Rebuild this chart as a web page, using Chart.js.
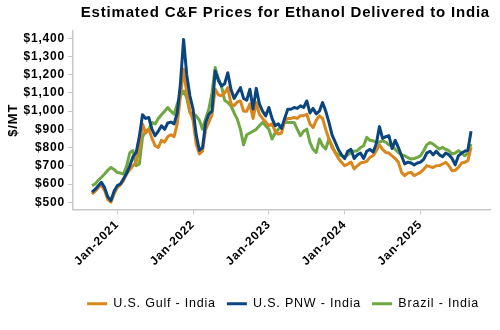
<!DOCTYPE html>
<html>
<head>
<meta charset="utf-8">
<script src="https://cdn.jsdelivr.net/npm/chart.js@4/dist/chart.umd.min.js"></script>
<style>
  html, body { margin: 0; padding: 0; background: #ffffff; }
  #wrap { width: 500px; height: 330px; }
</style>
</head>
<body>
<div id="wrap"><canvas id="chart" width="500" height="330"></canvas></div>
<script>
// Semi-monthly readings, first point ~Sep 2020 (x in months from Jan-2021)
const START_MONTH = -4;
const STEP = 0.5;

const gulfIndia = [
  545, 560, 580, 595, 565, 515, 500, 545, 580, 595, 620, 655, 680, 700, 720, 800,
  930, 880, 900, 850, 810, 800, 840, 830, 860, 870, 860, 930, 1080, 1230, 1100, 1000,
  950, 820, 765, 780, 900, 940, 980, 1120, 1090, 1084, 1100, 1129, 1040, 1030, 1050, 1056,
  1000, 1000, 1040, 960, 1047, 983, 960, 940, 920, 930, 890, 874, 880, 947, 960, 960,
  965, 960, 975, 975, 983, 930, 910, 950, 974, 960, 900, 847, 800, 773, 740, 719,
  700, 710, 720, 683, 700, 715, 719, 725, 746, 755, 783, 815, 790, 773, 770, 755,
  740, 719, 664, 646, 660, 664, 646, 655, 664, 680, 701, 695, 691, 700, 701, 710,
  719, 700, 673, 675, 691, 715, 719, 728, 801
];

const pnwIndia = [
  555, 570, 590, 609, 580, 530, 509, 560, 591, 600, 628, 660, 701, 750, 773, 860,
  980, 960, 965, 900, 865, 890, 920, 900, 935, 940, 930, 990, 1150, 1394, 1200, 1084,
  1011, 870, 785, 800, 938, 983, 1000, 1220, 1170, 1138, 1150, 1211, 1120, 1070, 1100, 1129,
  1070, 1060, 1120, 1011, 1125, 1040, 1000, 974, 1020, 960, 920, 930, 905, 960, 1011, 1010,
  1020, 1015, 1029, 1020, 1056, 990, 1015, 985, 1000, 1047, 1000, 940, 870, 830, 790, 760,
  740, 780, 790, 740, 760, 770, 740, 780, 790, 775, 820, 915, 850, 860, 865, 795,
  840, 800, 755, 710, 720, 715, 705, 715, 720, 735, 770, 780, 760, 780, 760, 750,
  770, 760, 740, 705, 755, 770, 780, 785, 890
];

const brazilIndia = [
  591, 600, 620, 637, 655, 675, 691, 680, 664, 660, 655, 700, 773, 783, 700, 710,
  856, 892, 900, 938, 930, 960, 980, 1000, 1020, 1000, 983, 1040, 1084, 1110, 1074, 992,
  985, 974, 950, 901, 960, 1011, 1100, 1239, 1180, 1138, 1060, 1047, 1029, 990, 956, 900,
  815, 870, 880, 890, 900, 920, 938, 920, 901, 847, 880, 901, 920, 938, 938, 938,
  938, 900, 865, 890, 901, 828, 790, 773, 847, 810, 792, 847, 810, 773, 760, 755,
  746, 760, 773, 780, 783, 800, 810, 856, 840, 837, 828, 830, 837, 830, 815, 810,
  790, 773, 760, 755, 745, 737, 740, 746, 755, 783, 815, 828, 819, 805, 792, 801,
  790, 783, 765, 770, 783, 770, 755, 770, 819
];

const seriesNames = ["U.S. Gulf - India", "U.S. PNW - India", "Brazil - India"];
const yTicks = [500, 600, 700, 800, 900, 1000, 1100, 1200, 1300, 1400];
const xTicks = [0, 12, 24, 36, 48]; // Jan of each year
const firstYear = 2021;

const colors = ["#d9861c", "#0a4580", "#6fa843"];

function toPoints(values) {
  return values.map((v, i) => ({ x: START_MONTH + i * STEP, y: v }));
}

const FONT = "'Liberation Sans', Arial, sans-serif";

// the reference text is a little spaced out
const spacing = {
  id: "spacing",
  beforeLayout(chart) { chart.ctx.letterSpacing = "0.8px"; },
  beforeDraw(chart) { chart.ctx.letterSpacing = "0.8px"; }
};

new Chart(document.getElementById("chart"), {
  type: "line",
  plugins: [spacing],
  data: {
    datasets: [
      { label: seriesNames[0], data: toPoints(gulfIndia), borderColor: colors[0], backgroundColor: colors[0], order: 1 },
      { label: seriesNames[1], data: toPoints(pnwIndia), borderColor: colors[1], backgroundColor: colors[1], order: 0 },
      { label: seriesNames[2], data: toPoints(brazilIndia), borderColor: colors[2], backgroundColor: colors[2], order: 2 }
    ]
  },
  options: {
    responsive: false,
    animation: false,
    devicePixelRatio: 1,
    layout: { padding: { left: 0, right: 10, top: 0, bottom: 10 } },
    elements: {
      point: { radius: 0 },
      line: { borderWidth: 3, tension: 0, borderJoinStyle: "round" }
    },
    plugins: {
      title: {
        display: true,
        text: "Estimated C&F Prices for Ethanol Delivered to India",
        align: "end",
        color: "#000",
        font: { family: FONT, size: 15, weight: "bold" },
        padding: { top: 4, bottom: 9 }
      },
      legend: {
        position: "bottom",
        align: "end",
        labels: {
          boxWidth: 20,
          boxHeight: 3,
          padding: 11,
          color: "#000",
          font: { family: FONT, size: 12.5 },
          generateLabels(chart) {
            return Chart.defaults.plugins.legend.labels.generateLabels(chart).map(l => {
              l.lineWidth = 0;
              l.fillStyle = colors[l.datasetIndex];
              return l;
            });
          },
          sort: (a, b) => a.datasetIndex - b.datasetIndex
        }
      },
      tooltip: { enabled: false }
    },
    scales: {
      x: {
        type: "linear",
        min: -7,
        max: 59,
        afterBuildTicks(scale) {
          scale.ticks = xTicks.map(v => ({ value: v }));
        },
        afterFit(scale) { scale.height = 77; },
        grid: { drawOnChartArea: false, drawTicks: true, tickLength: 5, color: "#c8c8c8" },
        border: { color: "#c8c8c8", width: 1.5 },
        ticks: {
          autoSkip: false,
          maxRotation: 45,
          minRotation: 45,
          color: "#000",
          font: { family: FONT, size: 12, weight: "bold" },
          callback: v => "Jan-" + (firstYear + v / 12)
        }
      },
      y: {
        min: 460,
        max: 1440,
        afterBuildTicks(scale) {
          scale.ticks = yTicks.map(v => ({ value: v }));
        },
        afterFit(scale) { scale.width = 73; },
        grid: { drawOnChartArea: false, drawTicks: true, tickLength: 5, color: "#c8c8c8" },
        border: { color: "#c8c8c8", width: 1.5 },
        title: {
          display: true,
          text: "$/MT",
          color: "#000",
          font: { family: FONT, size: 13, weight: "bold" },
          padding: { top: 6, bottom: 2 }
        },
        ticks: {
          color: "#000",
          padding: 3,
          font: { family: FONT, size: 12, weight: "bold" },
          callback: v => "$" + v.toLocaleString("en-US")
        }
      }
    }
  }
});
</script>
</body>
</html>
